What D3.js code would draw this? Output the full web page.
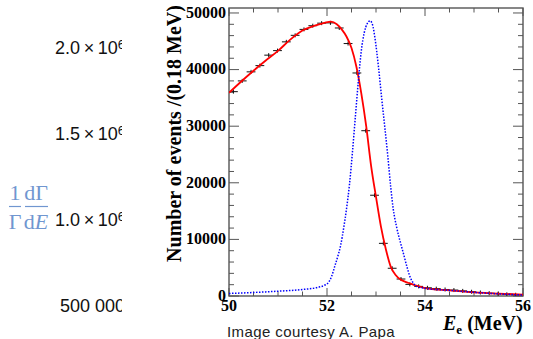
<html>
<head>
<script src="https://d3js.org/d3.v7.min.js"></script>
<style>
body {margin:0; background:#fff;}
.inner-tick {font: bold 16px "Liberation Serif", serif; fill:#000;}
</style>
</head>
<body>
<svg id="chart" width="533" height="339"></svg>
<script>
// outer chart axis (only tick labels visible)
var outerTicks = [500000, 1000000, 1500000, 2000000];
var outerMantissa = ["500 000", "1.0\u2009\u00d7\u200910", "1.5\u2009\u00d7\u200910", "2.0\u2009\u00d7\u200910"];
var outerExponent = ["", "6", "6", "6"];

// inset: measured spectrum, bin centres (0.18 MeV bins)
var binE = [50.09, 50.27, 50.45, 50.63, 50.81, 50.99, 51.17, 51.35, 51.53, 51.71, 51.89,
            52.07, 52.25, 52.43, 52.61, 52.79, 52.97, 53.15, 53.33, 53.51, 53.69, 53.87,
            54.05, 54.23, 54.41, 54.59, 54.77, 54.95, 55.13, 55.31, 55.49, 55.67, 55.85];
var binN = [36100, 38000, 39600, 40700, 42550, 43350, 44900, 46050, 47100, 47750, 48200,
            48250, 47350, 44600, 39400, 29200, 17800, 9300, 4900, 3000, 2050, 1700,
            1450, 1300, 1150, 1050, 900, 750, 620, 500, 400, 300, 220];

// inset: fit (red)
var fitE = [50.0, 50.25, 50.5, 50.75, 51.0, 51.25, 51.5, 51.75, 51.95, 52.08, 52.2, 52.3, 52.4,
            52.5, 52.6, 52.7, 52.8, 52.9, 53.0, 53.1, 53.2, 53.3, 53.4, 53.5, 53.6, 53.7, 53.8,
            54.0, 54.5, 55.0, 55.5, 56.0];
var fitN = [35900, 37900, 39800, 41600, 43300, 45300, 46900, 47750, 48250, 48470, 48000, 47100, 45800,
            43800, 40500, 35800, 30000, 23000, 17500, 12300, 8300, 5200, 3700, 2900, 2500, 2200, 1900,
            1400, 1000, 650, 420, 250];

// inset: signal shape (blue dotted)
var sigE = [50.0, 50.5, 51.0, 51.5, 51.8, 51.95, 52.03, 52.1, 52.16, 52.22, 52.28, 52.34, 52.4,
            52.46, 52.52, 52.58, 52.64, 52.7, 52.76, 52.82, 52.88, 52.93, 52.98, 53.05, 53.12,
            53.18, 53.24, 53.3, 53.35, 53.42, 53.5, 53.56, 53.63, 53.69, 53.76, 53.83, 53.95,
            54.05, 54.5, 55.0, 55.5, 56.0];
var sigN = [450, 620, 850, 1150, 1500, 1900, 2400, 3600, 5300, 7000, 9000, 12000, 15500,
            19800, 25500, 31800, 38000, 43300, 46500, 48100, 48600, 47900, 45500, 40500, 34600,
            29800, 24800, 19300, 15500, 12200, 9400, 7500, 5200, 3500, 2300, 1700, 1450,
            1300, 1000, 650, 380, 170];

var yTicksMajor = [0, 10000, 20000, 30000, 40000, 50000];
var xTicksMajor = [50, 52, 54, 56];

var svg = d3.select("#chart");

// ---- outer chart labels ----
var outerY = d3.scaleLinear().domain([500000, 2000000]).range([306, 47.5]);
svg.append("clipPath").attr("id", "outerClip")
    .append("rect").attr("x", 0).attr("y", 0).attr("width", 122).attr("height", 339);
var outerG = svg.append("g").attr("clip-path", "url(#outerClip)");
outerTicks.forEach(function(v, i) {
    var t = outerG.append("text")
        .attr("x", 125).attr("y", outerY(v)).attr("dy", "0.36em")
        .attr("text-anchor", "end")
        .style("font", "18px 'Liberation Sans', Arial, sans-serif")
        .style("fill", "#111");
    t.append("tspan").text(outerMantissa[i]);
    if (outerExponent[i]) {
        t.append("tspan").attr("dy", "-0.4em").style("font-size", "13px").text(outerExponent[i]);
    }
});

// 1/Γ dΓ/dE label
var lab = svg.append("g").style("fill", "#7096d0")
    .style("font", "22px 'Liberation Serif', serif");
lab.append("text").attr("x", 15).attr("y", 200).attr("text-anchor", "middle").text("1");
lab.append("text").attr("x", 36).attr("y", 200).attr("text-anchor", "middle").text("d\u0393");
lab.append("text").attr("x", 15).attr("y", 229).attr("text-anchor", "middle").text("\u0393");
var dE = lab.append("text").attr("x", 36).attr("y", 229).attr("text-anchor", "middle");
dE.append("tspan").text("d");
dE.append("tspan").style("font-style", "italic").text("E");
lab.append("line").attr("x1", 9).attr("x2", 21).attr("y1", 206.5).attr("y2", 206.5)
    .attr("stroke", "#7096d0").attr("stroke-width", 1.2);
lab.append("line").attr("x1", 25).attr("x2", 48).attr("y1", 206.5).attr("y2", 206.5)
    .attr("stroke", "#7096d0").attr("stroke-width", 1.2);

// caption
svg.append("text").attr("x", 227).attr("y", 336.5)
    .style("font", "15px 'Liberation Sans', Arial, sans-serif").style("fill", "#222")
    .style("letter-spacing", "0.4px")
    .text("Image courtesy A. Papa");

// ---- inset plot ----
var x = d3.scaleLinear().domain([50, 56]).range([229, 523]);
var y = d3.scaleLinear().domain([0, 50880]).range([296, 8]);

svg.append("clipPath").attr("id", "plotClip")
    .append("rect").attr("x", x(50)).attr("y", y(50880))
    .attr("width", x(56) - x(50)).attr("height", y(0) - y(50880));

var axisColor = "#555";
// ticks on all four sides, pointing inwards
var yMinor = d3.range(0, 50001, 2000);
var xMinor = d3.range(50, 56.01, 0.5);
var tickG = svg.append("g").attr("stroke", axisColor).attr("stroke-width", 1);
yMinor.forEach(function(v) {
    var len = (v % 10000 === 0) ? 10 : 5;
    tickG.append("line").attr("x1", x(50)).attr("x2", x(50) + len).attr("y1", y(v)).attr("y2", y(v));
    tickG.append("line").attr("x1", x(56)).attr("x2", x(56) - len).attr("y1", y(v)).attr("y2", y(v));
});
xMinor.forEach(function(v) {
    var len = (Math.abs(v % 2) < 1e-6) ? 8 : 4.5;
    tickG.append("line").attr("x1", x(v)).attr("x2", x(v)).attr("y1", y(0)).attr("y2", y(0) - len);
    tickG.append("line").attr("x1", x(v)).attr("x2", x(v)).attr("y1", y(50880)).attr("y2", y(50880) + len);
});

// frame
svg.append("rect").attr("x", x(50)).attr("y", y(50880))
    .attr("width", x(56) - x(50)).attr("height", y(0) - y(50880))
    .attr("fill", "none").attr("stroke", axisColor).attr("stroke-width", 1.4);

// tick labels
svg.append("g").selectAll("text").data(yTicksMajor).enter().append("text")
    .attr("class", "inner-tick")
    .attr("x", 226).attr("y", function(d) { return y(d); }).attr("dy", "0.3em")
    .attr("text-anchor", "end").text(function(d) { return d; });
svg.append("g").selectAll("text").data(xTicksMajor).enter().append("text")
    .attr("class", "inner-tick")
    .attr("x", function(d) { return x(d); }).attr("y", 311)
    .attr("text-anchor", "middle").text(function(d) { return d; });

// axis titles
svg.append("text")
    .attr("transform", "translate(181,133.5) rotate(-90)")
    .attr("text-anchor", "middle")
    .style("font", "bold 20px 'Liberation Serif', serif")
    .text("Number of events /(0.18 MeV)");
var xt = svg.append("text").attr("x", 443).attr("y", 330)
    .style("font", "bold 20px 'Liberation Serif', serif");
xt.append("tspan").style("font-style", "italic").text("E");
xt.append("tspan").attr("dy", 4).style("font-size", "13px").text("e");
xt.append("tspan").attr("dy", -4).text(" (MeV)");

var plot = svg.append("g").attr("clip-path", "url(#plotClip)");

// data crosses
var cross = plot.append("g").attr("stroke", "#111").attr("stroke-width", 1);
binE.forEach(function(e, i) {
    cross.append("line").attr("x1", x(e - 0.09)).attr("x2", x(e + 0.09))
        .attr("y1", y(binN[i])).attr("y2", y(binN[i]));
    cross.append("line").attr("x1", x(e)).attr("x2", x(e))
        .attr("y1", y(binN[i]) - 2).attr("y2", y(binN[i]) + 2);
});

var line = d3.line()
    .x(function(d) { return x(d[0]); })
    .y(function(d) { return y(d[1]); })
    .curve(d3.curveMonotoneX);

plot.append("path")
    .datum(fitE.map(function(e, i) { return [e, fitN[i]]; }))
    .attr("d", line)
    .attr("fill", "none").attr("stroke", "#ff0000").attr("stroke-width", 1.8);

plot.append("path")
    .datum(sigE.map(function(e, i) { return [e, sigN[i]]; }))
    .attr("d", line)
    .attr("fill", "none").attr("stroke", "#0000ff").attr("stroke-width", 1.5)
    .attr("stroke-dasharray", "1.5,1.5");
</script>
</body>
</html>
